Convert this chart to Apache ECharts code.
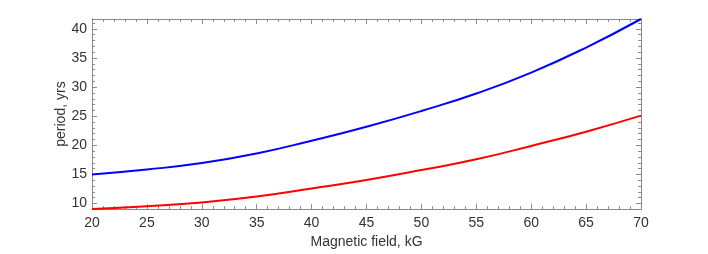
<!DOCTYPE html>
<html>
<head>
<meta charset="utf-8">
<script src="https://cdn.jsdelivr.net/npm/echarts@6/dist/echarts.min.js"></script>
<style>html,body{margin:0;padding:0;background:#fff;}#c{width:708px;height:254px;}</style>
</head>
<body>
<div id="c"></div>
<script>
// Data
var fieldKG = [20, 25, 30, 35, 40, 45, 50, 55, 60, 65, 70];
var periodBlue = [15.0, 15.85, 16.95, 18.6, 20.8, 23.2, 25.9, 28.9, 32.5, 36.8, 41.7];
var periodRed = [9.05, 9.55, 10.2, 11.2, 12.6, 14.05, 15.75, 17.6, 19.9, 22.35, 25.1];
var yMajorTicks = [10, 15, 20, 25, 30, 35, 40];
var yMinorTicks = [11, 12, 13, 14, 16, 17, 18, 19, 21, 22, 23, 24, 26, 27, 28, 29, 31, 32, 33, 34, 36, 37, 38, 39, 41];
var yMin = 9.05, yMax = 41.7;
var xMin = 20, xMax = 70;

var axisColor = '#8a8a8a';
var font = 'Liberation Sans, Arial, Helvetica, sans-serif';

function pairs(xs, ys) { return xs.map(function (x, i) { return [x, ys[i]]; }); }

function xAx(pos, showLabels) {
  return {
    type: 'value', position: pos, min: xMin, max: xMax, interval: 5,
    name: showLabels ? 'Magnetic field, kG' : '', nameLocation: 'middle', nameGap: 18,
    nameTextStyle: { color: '#333', fontSize: 14, fontFamily: font },
    axisLine: { show: true, onZero: false, lineStyle: { color: axisColor, width: 1 } },
    axisTick: { show: true, inside: true, length: 5, lineStyle: { color: axisColor } },
    minorTick: { show: true, splitNumber: 5, length: 3, lineStyle: { color: axisColor } },
    axisLabel: { show: showLabels, margin: 7, color: '#333', fontSize: 14, fontFamily: font },
    splitLine: { show: false }, minorSplitLine: { show: false }
  };
}
function yAx(pos, major, showLabels) {
  var vals = major ? yMajorTicks : yMinorTicks;
  return {
    type: 'value', position: pos, min: yMin, max: yMax,
    name: (showLabels ? 'period, yrs' : ''), nameLocation: 'middle', nameGap: 24, nameMoveOverlap: false,
    nameTextStyle: { color: '#333', fontSize: 14, fontFamily: font },
    axisLine: { show: true, onZero: false, lineStyle: { color: axisColor, width: 1 } },
    axisTick: { show: true, inside: true, length: major ? 5 : 3, customValues: vals, lineStyle: { color: axisColor } },
    axisLabel: { show: showLabels, customValues: yMajorTicks, margin: 5, color: '#333', fontSize: 14, fontFamily: font },
    splitLine: { show: false }
  };
}

var chart = echarts.init(document.getElementById('c'), null, { renderer: 'canvas' });
chart.setOption({
  animation: false,
  backgroundColor: '#fff',
  grid: { left: 92, right: 67, top: 19, bottom: 39, containLabel: false },
  xAxis: [xAx('bottom', true), xAx('top', false)],
  yAxis: [yAx('left', true, true), yAx('left', false, false), yAx('right', true, false), yAx('right', false, false)],
  series: [
    { type: 'line', xAxisIndex: 0, yAxisIndex: 0, data: pairs(fieldKG, periodBlue), smooth: true, showSymbol: false,
      lineStyle: { color: '#0000ff', width: 2 }, clip: true },
    { type: 'line', xAxisIndex: 0, yAxisIndex: 0, data: pairs(fieldKG, periodRed), smooth: true, showSymbol: false,
      lineStyle: { color: '#ff0000', width: 2 }, clip: true }
  ]
});
</script>
</body>
</html>
